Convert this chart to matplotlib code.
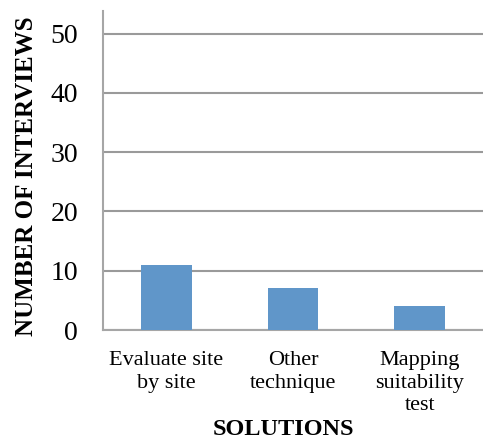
import matplotlib.pyplot as plt
import numpy as np

categories = ["Evaluate site\nby site", "Other\ntechnique", "Mapping\nsuitability\ntest"]
interviews = [11, 7, 4]
yticks = [0, 10, 20, 30, 40, 50]

plt.rcParams['font.family'] = ['Liberation Serif', 'DejaVu Serif']

fig = plt.figure(figsize=(4.83, 4.41), dpi=100)
ax = fig.add_axes([103 / 483, (441 - 330) / 441, 380 / 483, 319 / 441])

x = np.arange(len(categories))
ax.bar(x, interviews, width=0.4, color='#6096c9', zorder=3)

ax.set_xlim(-0.5, 2.5)
ax.set_ylim(0, 53.8)
ax.set_yticks(yticks)
ax.set_xticks(x)
ax.set_xticklabels(categories, fontsize=16, linespacing=1.27)
ax.tick_params(axis='y', labelsize=20, length=0, pad=18)
ax.tick_params(axis='x', length=0, pad=15)

ax.yaxis.grid(True, color='#9a9a9a', linewidth=1.5, zorder=0)
for side in ['top', 'right']:
    ax.spines[side].set_visible(False)
for side in ['left', 'bottom']:
    ax.spines[side].set_color('#a6a6a6')
    ax.spines[side].set_linewidth(1.5)

fig.text(283 / 483, 0.003, "SOLUTIONS", ha='center', va='bottom',
         fontsize=17.5, fontweight='bold')
fig.text(27 / 483, 1 - 176 / 441, "NUMBER OF INTERVIEWS", rotation=90, ha='center', va='center',
         fontsize=18, fontweight='bold')

fig.savefig('out.png', dpi=100)
